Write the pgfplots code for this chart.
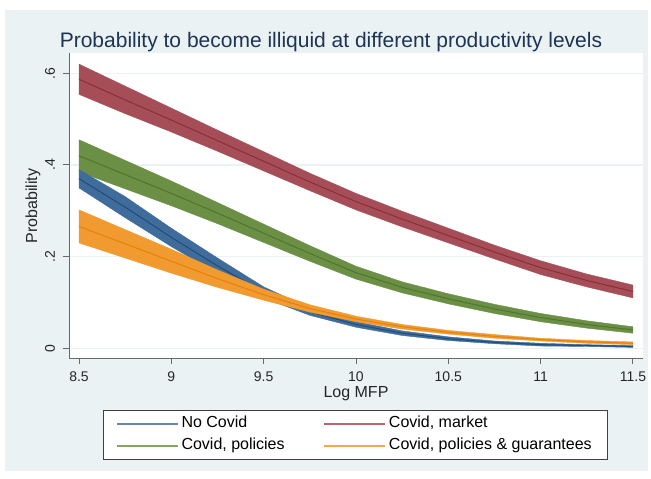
\documentclass[border=0pt]{standalone}
\usepackage{fontspec}
\setmainfont{Liberation Sans}
\usepackage{pgfplots}
\usepackage{pgfplotstable}
\pgfplotsset{compat=1.18}

\definecolor{bgc}{RGB}{234,242,243}
\definecolor{gridc}{RGB}{234,242,243}
\definecolor{axc}{RGB}{105,105,105}
\definecolor{titlec}{RGB}{30,52,85}
\definecolor{bandr}{RGB}{166,78,88}
\definecolor{liner}{RGB}{140,46,58}
\definecolor{bandg}{RGB}{106,143,69}
\definecolor{lineg}{RGB}{79,118,44}
\definecolor{bandb}{RGB}{63,108,154}
\definecolor{lineb}{RGB}{31,77,122}
\definecolor{bando}{RGB}{240,154,48}
\definecolor{lineo}{RGB}{229,130,10}
\definecolor{legb}{RGB}{100,135,175}
\definecolor{legr}{RGB}{190,100,112}
\definecolor{legg}{RGB}{130,165,100}
\definecolor{lego}{RGB}{245,168,75}

% ---- No Covid: estimate and confidence band (upper edge forward, lower edge back)
\pgfplotstableread{
x y
8.5 0.370
8.75 0.308
9 0.242
9.25 0.180
9.5 0.122
9.75 0.080
10 0.052
10.25 0.033
10.5 0.021
10.75 0.013
11 0.008
11.25 0.006
11.5 0.004
}\mblue
\pgfplotstableread{
x y
8.5 0.390
8.75 0.331
9 0.262
9.25 0.197
9.5 0.134
9.75 0.088
10 0.058
10.25 0.038
10.5 0.025
10.75 0.016
11 0.011
11.25 0.008
11.5 0.006
11.5 0.002
11.25 0.004
11 0.005
10.75 0.010
10.5 0.017
10.25 0.028
10 0.046
9.75 0.072
9.5 0.110
9.25 0.163
9 0.222
8.75 0.285
8.5 0.350
}\cblue

% ---- Covid, market
\pgfplotstableread{
x y
8.5 0.587
8.75 0.542
9 0.498
9.25 0.453
9.5 0.408
9.75 0.363
10 0.320
10.25 0.282
10.5 0.246
10.75 0.210
11 0.176
11.25 0.148
11.5 0.124
}\mred
\pgfplotstableread{
x y
8.5 0.620
8.75 0.572
9 0.524
9.25 0.476
9.5 0.429
9.75 0.382
10 0.338
10.25 0.299
10.5 0.262
10.75 0.225
11 0.191
11.25 0.162
11.5 0.138
11.5 0.110
11.25 0.134
11 0.161
10.75 0.195
10.5 0.230
10.25 0.265
10 0.302
9.75 0.344
9.5 0.387
9.25 0.430
9 0.472
8.75 0.512
8.5 0.554
}\cred

% ---- Covid, policies
\pgfplotstableread{
x y
8.5 0.420
8.75 0.379
9 0.338
9.25 0.295
9.5 0.251
9.75 0.207
10 0.165
10.25 0.133
10.5 0.108
10.75 0.086
11 0.067
11.25 0.052
11.5 0.040
}\mgreen
\pgfplotstableread{
x y
8.5 0.455
8.75 0.410
9 0.365
9.25 0.318
9.5 0.271
9.75 0.224
10 0.179
10.25 0.145
10.5 0.119
10.75 0.096
11 0.076
11.25 0.060
11.5 0.047
11.5 0.033
11.25 0.044
11 0.058
10.75 0.076
10.5 0.097
10.25 0.121
10 0.151
9.75 0.190
9.5 0.231
9.25 0.272
9 0.311
8.75 0.348
8.5 0.385
}\cgreen

% ---- Covid, policies & guarantees
\pgfplotstableread{
x y
8.5 0.266
8.75 0.228
9 0.190
9.25 0.152
9.5 0.117
9.75 0.087
10 0.064
10.25 0.047
10.5 0.035
10.75 0.026
11 0.019
11.25 0.014
11.5 0.011
}\morange
\pgfplotstableread{
x y
8.5 0.302
8.75 0.259
9 0.216
9.25 0.171
9.5 0.129
9.75 0.095
10 0.070
10.25 0.052
10.5 0.039
10.75 0.030
11 0.022
11.25 0.017
11.5 0.014
11.5 0.008
11.25 0.011
11 0.016
10.75 0.022
10.5 0.031
10.25 0.042
10 0.058
9.75 0.079
9.5 0.105
9.25 0.133
9 0.164
8.75 0.197
8.5 0.230
}\corange

\begin{document}
\begin{tikzpicture}[x=1pt,y=1pt]
\fill[white] (0,0) rectangle (651,479);
\fill[bgc] (5,8) rectangle (648,469);
\begin{axis}[
  at={(69pt,120pt)}, anchor=south west,
  scale only axis, width=574pt, height=306pt,
  xmin=8.4458, xmax=11.5542, ymin=-0.0233, ymax=0.6443,
  axis background/.style={fill=white},
  axis x line*=bottom, axis y line*=left,
  axis line style={-, draw=axc, line width=1pt},
  tick align=outside, major tick length=5.5pt,
  tick style={draw=axc, line width=1pt},
  xtick={8.5,9,9.5,10,10.5,11,11.5},
  xticklabels={8.5,9,9.5,10,10.5,11,11.5},
  ytick={0,0.2,0.4,0.6},
  yticklabels={0,.2,.4,.6},
  /pgf/number format/assume math mode=true,
  xticklabel style={font=\fontsize{14}{16}\selectfont, text=black!85, yshift=-4pt},
  yticklabel style={font=\fontsize{14}{16}\selectfont, text=black!85, xshift=-5pt, rotate=90, anchor=south},
  ymajorgrids, grid style={draw=gridc, line width=1.2pt},
  xlabel={Log MFP}, ylabel={Probability},
  xlabel style={font=\fontsize{16}{19}\selectfont, text=black!85, at={(axis description cs:0.5,-0.114)}, anchor=center},
  ylabel style={font=\fontsize{16}{19}\selectfont, text=black!85, at={(axis description cs:-0.0627,0.5)}, anchor=center},
  legend columns=2, legend cell align=left,
  legend image code/.code={\draw[#1, line width=1.3pt] (0pt,0pt) -- (61pt,0pt);},
  legend style={at={(axis description cs:0.4991,-0.1667)}, anchor=north,
    draw=black!75, line width=0.8pt, fill=white,
    font=\fontsize{16}{19}\selectfont, inner xsep=13pt, inner ysep=2.5pt,
    nodes={text height=12pt, text depth=4pt, inner sep=3pt},
    /tikz/every even column/.append style={column sep=36pt}},
]
\addlegendimage{legb}\addlegendentry{No Covid}
\addlegendimage{legr}\addlegendentry{Covid, market}
\addlegendimage{legg}\addlegendentry{Covid, policies}
\addlegendimage{lego}\addlegendentry{Covid, policies \& guarantees}

\addplot[fill=bandr, draw=bandr, line width=0.4pt, forget plot] table[x=x,y=y]{\cred} -- cycle;
\addplot[liner, line width=1pt, forget plot] table[x=x,y=y]{\mred};
\addplot[fill=bandg, draw=bandg, line width=0.4pt, forget plot] table[x=x,y=y]{\cgreen} -- cycle;
\addplot[lineg, line width=1pt, forget plot] table[x=x,y=y]{\mgreen};
\addplot[fill=bandb, draw=bandb, line width=0.4pt, forget plot] table[x=x,y=y]{\cblue} -- cycle;
\addplot[lineb, line width=1pt, forget plot] table[x=x,y=y]{\mblue};
\addplot[fill=bando, draw=bando, line width=0.4pt, forget plot] table[x=x,y=y]{\corange} -- cycle;
\addplot[lineo, line width=1pt, forget plot] table[x=x,y=y]{\morange};
\end{axis}
\node[font=\fontsize{21}{25}\selectfont, text=titlec, anchor=base] at (331,431) {Probability to become illiquid at different productivity levels};
\end{tikzpicture}
\end{document}
